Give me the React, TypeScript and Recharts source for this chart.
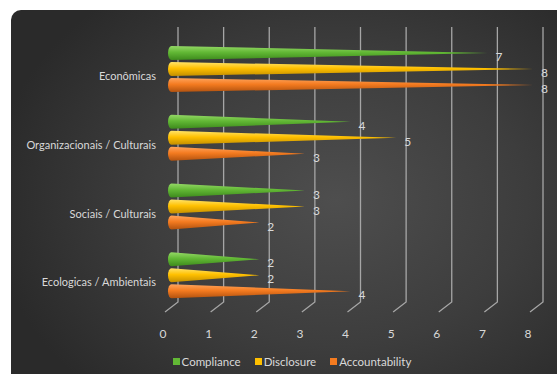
import React from "react";
import { BarChart, Bar, XAxis, YAxis, CartesianGrid, Legend, LabelList } from "recharts";

const categories = ["Econômicas", "Organizacionais / Culturais", "Sociais / Culturais", "Ecologicas / Ambientais"];
const compliance = [7, 4, 3, 2];
const disclosure = [8, 5, 3, 2];
const accountability = [8, 3, 2, 4];
const xTicks = [0, 1, 2, 3, 4, 5, 6, 7, 8];

const SERIES = [
  { key: "compliance", name: "Compliance", color: "#62b835", top: "#94d866", bottom: "#3d8a1c" },
  { key: "disclosure", name: "Disclosure", color: "#ffc000", top: "#ffe36a", bottom: "#c48f00" },
  { key: "accountability", name: "Accountability", color: "#f47b20", top: "#ffa45c", bottom: "#b2520f" },
];

const data = categories.map((name, i) => ({
  name,
  compliance: compliance[i],
  disclosure: disclosure[i],
  accountability: accountability[i],
}));

const FONT = "Lato, 'Open Sans', sans-serif";
const TEXT = "#d9d9d9";

function Cone(props: any) {
  const { x, y, width, height, gradId } = props;
  if (!width || width <= 0) return null;
  const r = height / 2;
  const rx = 3.5;
  const d = `M ${x + rx} ${y} L ${x + width} ${y + r} L ${x + rx} ${y + height} A ${rx} ${r} 0 0 1 ${x + rx} ${y} Z`;
  return <path d={d} fill={`url(#${gradId})`} />;
}

function GridLine(props: any) {
  const { x1, y1, y2, key } = props;
  const bx = x1 + 10;
  return (
    <polyline
      key={key}
      points={`${bx},${y1 - 8} ${bx},${y2 - 8} ${bx - 13},${y2 + 2}`}
      fill="none"
      stroke="#a6a6a6"
      strokeWidth={1.3}
    />
  );
}

function CatTick(props: any) {
  const { x, y, payload } = props;
  return (
    <text x={x - 4} y={y + 7} dy="0.35em" textAnchor="end" fill={TEXT} fontSize={11} fontFamily={FONT}>
      {payload.value}
    </text>
  );
}

function NumTick(props: any) {
  const { x, y, payload } = props;
  return (
    <text x={x - 5} y={y + 16} dy="0.35em" textAnchor="middle" fill={TEXT} fontSize={12} fontFamily={FONT}>
      {payload.value}
    </text>
  );
}

function ValueLabel(props: any) {
  const { x, y, width, height, value } = props;
  return (
    <text x={x + width + 8} y={y + height / 2 + 4} dy="0.35em" fill={TEXT} fontSize={12} fontFamily={FONT}>
      {value}
    </text>
  );
}

function LegendContent() {
  return (
    <div style={{ display: "flex", justifyContent: "center", gap: 14, fontFamily: FONT, fontSize: 11.5, color: TEXT }}>
      {SERIES.map((s) => (
        <span key={s.key} style={{ display: "flex", alignItems: "center" }}>
          <span style={{ width: 7, height: 7, background: s.color, marginRight: 2, display: "inline-block" }} />
          {s.name}
        </span>
      ))}
    </div>
  );
}

export default function App() {
  return (
    <div style={{ position: "absolute", left: 0, top: 0, width: 557, height: 374, background: "#fff", overflow: "hidden" }}>
      <div
        style={{
          position: "absolute",
          left: 11,
          top: 10,
          width: 560,
          height: 380,
          borderRadius: 10,
          background: "radial-gradient(ellipse 62% 70% at 58% 50%, #4e4e4e 0%, #3d3d3d 55%, #2a2a2a 100%)",
        }}
      >
        <BarChart
          width={546}
          height={364}
          data={data}
          layout="vertical"
          margin={{ top: 25, right: 24, left: 0, bottom: 0 }}
          barSize={14}
          barGap={2}
          barCategoryGap={12}
        >
          <defs>
            {SERIES.map((s) => (
              <linearGradient key={s.key} id={`g-${s.key}`} x1="0" y1="0" x2="0" y2="1">
                <stop offset="0%" stopColor={s.top} />
                <stop offset="45%" stopColor={s.color} />
                <stop offset="100%" stopColor={s.bottom} />
              </linearGradient>
            ))}
          </defs>
          <CartesianGrid horizontal={false} vertical={GridLine as any} />
          <XAxis
            type="number"
            domain={[0, 8]}
            ticks={xTicks}
            axisLine={false}
            tickLine={false}
            tick={<NumTick />}
            height={51}
          />
          <YAxis
            type="category"
            dataKey="name"
            width={157}
            axisLine={false}
            tickLine={false}
            tick={<CatTick />}
          />
          <Legend
            verticalAlign="bottom"
            content={<LegendContent />}
            wrapperStyle={{ left: 8, bottom: 6, width: 546 }}
          />
          {SERIES.map((s) => (
            <Bar
              key={s.key}
              dataKey={s.key}
              name={s.name}
              fill={s.color}
              isAnimationActive={false}
              shape={<Cone gradId={`g-${s.key}`} />}
            >
              <LabelList dataKey={s.key} content={<ValueLabel />} />
            </Bar>
          ))}
        </BarChart>
      </div>
    </div>
  );
}
